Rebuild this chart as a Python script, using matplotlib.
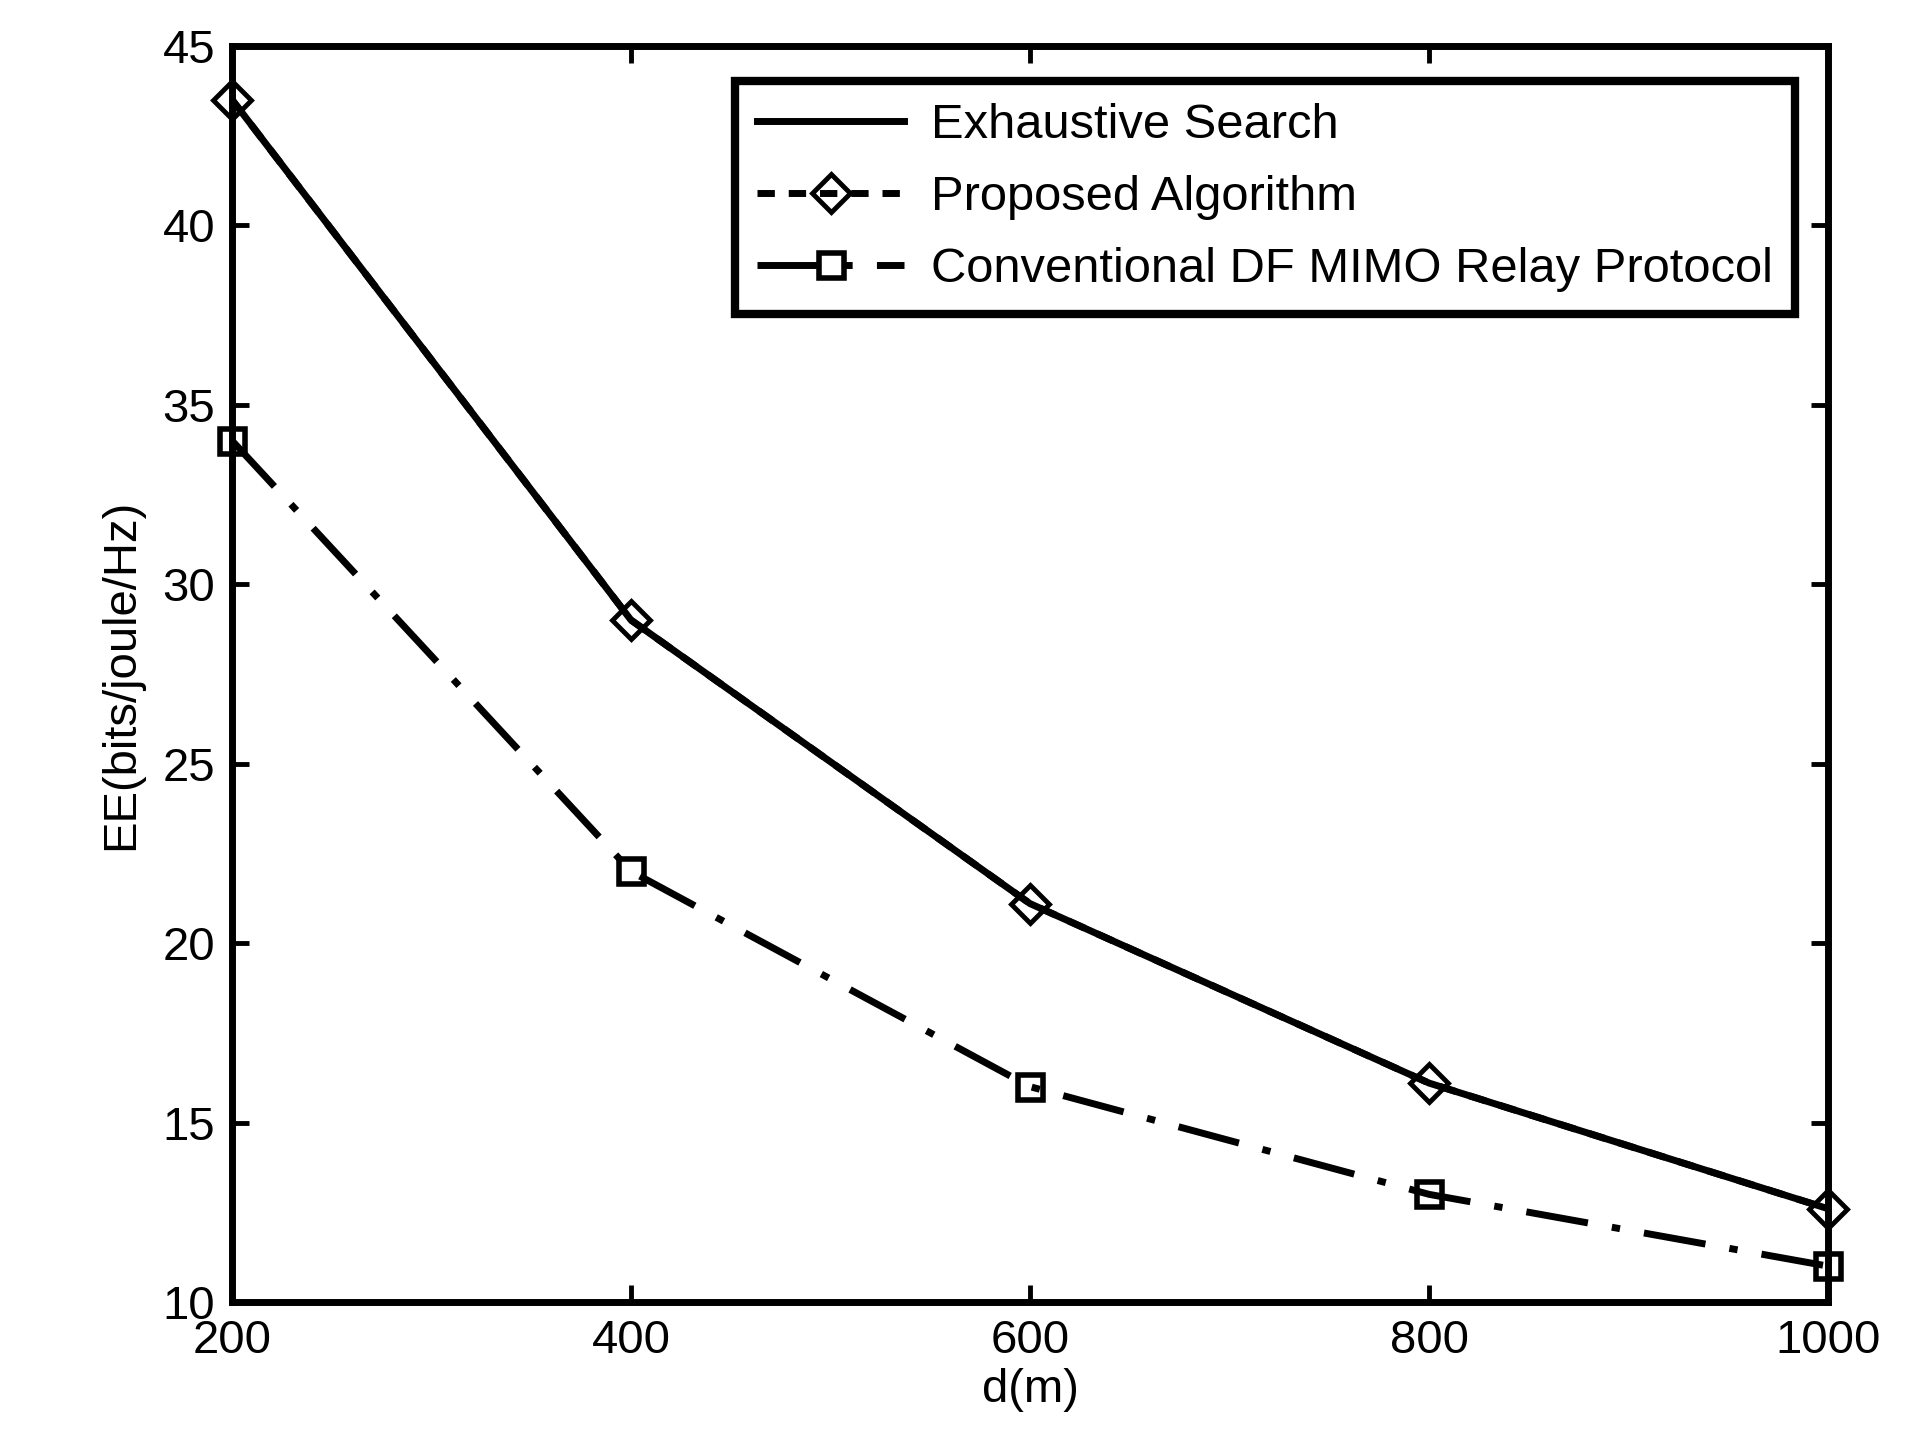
import matplotlib
matplotlib.use('Agg')
import matplotlib.pyplot as plt
import numpy as np

plt.rcParams['font.family'] = ['Liberation Sans', 'DejaVu Sans']

# data
d = [200, 400, 600, 800, 1000]
exhaustive = [43.5, 29.0, 21.1, 16.1, 12.6]
proposed = [43.5, 29.0, 21.1, 16.1, 12.6]
conventional = [34.0, 22.0, 16.0, 13.0, 11.0]

fig = plt.figure(figsize=(19.33, 14.30), dpi=100)
ax = fig.add_axes([0.120, 0.0895, 0.8257, 0.8785])

lw = 5.0
ax.plot(d, exhaustive, color='k', lw=lw, ls='-', label='Exhaustive Search')
ax.plot(d, proposed, color='k', lw=lw, ls='--', dashes=(2.5, 2),
        marker='D', ms=19, mfc='none', mec='k', mew=3.5, clip_on=False,
        label='Proposed Algorithm')
ax.plot(d, conventional, color='k', lw=lw, dashes=(9, 3.5, 1.2, 3.5),
        marker='s', ms=18, mfc='none', mec='k', mew=4, clip_on=False,
        label='Conventional DF MIMO Relay Protocol')

ax.set_xlim(200, 1000)
ax.set_ylim(10, 45)
ax.set_xticks([200, 400, 600, 800, 1000])
ax.set_yticks([10, 15, 20, 25, 30, 35, 40, 45])

fs = 34
ax.tick_params(direction='in', length=12, width=3.5, labelsize=fs,
               top=True, right=True, pad=12)
for s in ax.spines.values():
    s.set_linewidth(5)

ax.set_xlabel('d(m)', fontsize=fs, labelpad=4)
ax.set_ylabel('EE(bits/joule/Hz)', fontsize=fs, labelpad=14)

leg = ax.legend(loc='upper right', fontsize=35.2, frameon=True, fancybox=False,
                edgecolor='k', framealpha=1, handlelength=3.0, borderpad=0.45,
                labelspacing=0.55, handletextpad=0.55,
                bbox_to_anchor=(0.9945, 0.9915))
leg.get_frame().set_linewidth(6)

fig.savefig('out.png', dpi=100)
